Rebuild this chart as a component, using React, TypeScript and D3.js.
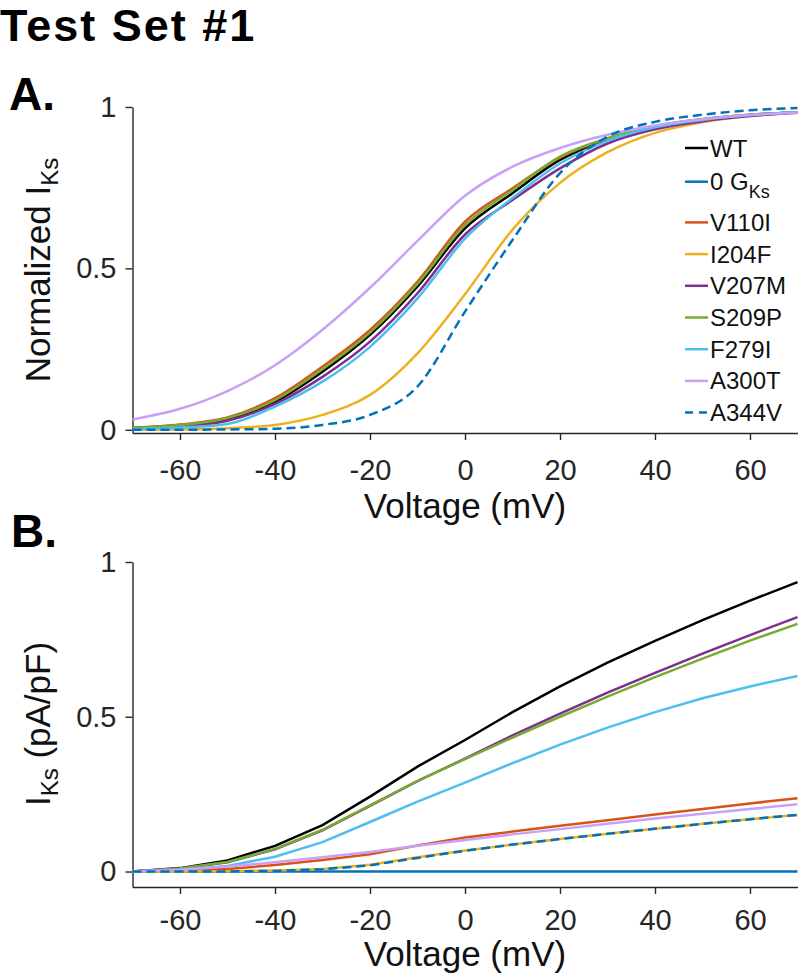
import * as d3 from "d3";
import { useRef, useEffect } from "react";

// voltage steps (mV)
const voltages = [-70, -60, -50, -40, -30, -20, -10, 0, 10, 20, 30, 40, 50, 60, 70];

const seriesNames = ["WT", "0 GKs", "V110I", "I204F", "V207M", "S209P", "F279I", "A300T", "A344V"];
const seriesColors = ["#000000", "#0072BD", "#D95319", "#EDB120", "#7E2F8E", "#77AC30", "#4DBEEE", "#C8A0F8", "#0072BD"];
const seriesDashed = [false, false, false, false, false, false, false, false, true];

// panel A: normalized IKs (0 GKs has no normalized curve)
const normWT = [0.005, 0.013, 0.032, 0.087, 0.18, 0.294, 0.444, 0.624, 0.733, 0.836, 0.898, 0.938, 0.961, 0.975, 0.984];
const normZero = [null, null, null, null, null, null, null, null, null, null, null, null, null, null, null];
const normV110I = [0.006, 0.016, 0.038, 0.098, 0.196, 0.309, 0.459, 0.645, 0.748, 0.843, 0.902, 0.94, 0.962, 0.976, 0.984];
const normI204F = [0.0, 0.001, 0.005, 0.015, 0.046, 0.108, 0.237, 0.42, 0.62, 0.765, 0.86, 0.92, 0.953, 0.972, 0.982];
const normV207M = [0.004, 0.011, 0.028, 0.08, 0.164, 0.273, 0.423, 0.605, 0.712, 0.81, 0.887, 0.931, 0.956, 0.972, 0.982];
const normS209P = [0.006, 0.015, 0.036, 0.092, 0.188, 0.301, 0.452, 0.634, 0.743, 0.846, 0.903, 0.941, 0.963, 0.976, 0.984];
const normF279I = [0.002, 0.007, 0.018, 0.072, 0.149, 0.257, 0.407, 0.592, 0.718, 0.825, 0.895, 0.937, 0.96, 0.975, 0.984];
const normA300T = [0.032, 0.065, 0.12, 0.2, 0.31, 0.44, 0.585, 0.725, 0.815, 0.873, 0.914, 0.943, 0.962, 0.975, 0.983];
const normA344V = [0.0, 0.0, 0.001, 0.003, 0.015, 0.046, 0.134, 0.366, 0.588, 0.795, 0.908, 0.954, 0.976, 0.99, 0.997];

// panel B: IKs (pA/pF)
const iksWT = [0, 0.011, 0.036, 0.083, 0.15, 0.242, 0.339, 0.425, 0.515, 0.598, 0.675, 0.745, 0.812, 0.875, 0.935];
const iksZero = [0, 0, 0, 0, 0, 0, 0, 0, 0, 0, 0, 0, 0, 0, 0];
const iksV110I = [0, 0.003, 0.008, 0.021, 0.037, 0.056, 0.084, 0.11, 0.129, 0.148, 0.166, 0.184, 0.202, 0.22, 0.237];
const iksI204F = [0, 0, 0.001, 0.003, 0.008, 0.022, 0.046, 0.068, 0.087, 0.105, 0.122, 0.138, 0.154, 0.169, 0.183];
const iksV207M = [0, 0.01, 0.03, 0.072, 0.133, 0.212, 0.292, 0.365, 0.44, 0.51, 0.578, 0.642, 0.704, 0.764, 0.822];
const iksS209P = [0, 0.01, 0.031, 0.073, 0.135, 0.214, 0.293, 0.363, 0.433, 0.5, 0.565, 0.628, 0.688, 0.746, 0.8];
const iksF279I = [0, 0.006, 0.018, 0.048, 0.095, 0.16, 0.226, 0.287, 0.35, 0.41, 0.465, 0.515, 0.56, 0.598, 0.632];
const iksA300T = [0, 0.006, 0.016, 0.03, 0.046, 0.063, 0.083, 0.102, 0.12, 0.137, 0.154, 0.171, 0.187, 0.202, 0.217];
const iksA344V = [0, 0, 0, 0.002, 0.007, 0.02, 0.044, 0.067, 0.087, 0.105, 0.122, 0.138, 0.154, 0.169, 0.183];

const normSeries = [normWT, normZero, normV110I, normI204F, normV207M, normS209P, normF279I, normA300T, normA344V];
const iksSeries = [iksWT, iksZero, iksV110I, iksI204F, iksV207M, iksS209P, iksF279I, iksA300T, iksA344V];

const xTicks = [-60, -40, -20, 0, 20, 40, 60];
const yTicks = [0, 0.5, 1];

const FONT = "'Liberation Sans', Arial, Helvetica, sans-serif";
const AXIS_COLOR = "#262626";

function Panel({ top, bottom, yMin, series, smooth, tickGap, labelBase, legend }) {
  const x = d3.scaleLinear().domain([-70, 70]).range([132.5, 797.5]);
  const y = d3.scaleLinear().domain([yMin, 1]).range([bottom, top]);

  const line = d3.line()
    .defined(d => d[1] != null)
    .x(d => x(d[0]))
    .y(d => y(d[1]))
    .curve(smooth ? d3.curveMonotoneX : d3.curveLinear);

  const gx = useRef(null);
  const gy = useRef(null);

  useEffect(() => {
    const ax = d3.select(gx.current)
      .call(d3.axisBottom(x).tickValues(xTicks).tickSize(7).tickSizeOuter(0).tickPadding(tickGap).tickFormat(d => String(d)));
    const ay = d3.select(gy.current)
      .call(d3.axisLeft(y).tickValues(yTicks).tickSize(7).tickSizeOuter(0).tickPadding(9).tickFormat(d => String(d)));
    [ax, ay].forEach(g => {
      g.attr("font-family", FONT).attr("font-size", 29);
      g.select(".domain").attr("stroke", AXIS_COLOR).attr("stroke-width", 1.4);
      g.selectAll(".tick line").attr("stroke", AXIS_COLOR).attr("stroke-width", 1.4);
      g.selectAll(".tick text").attr("fill", AXIS_COLOR);
    });
  }, []);

  return (
    <g>
      <g ref={gx} transform={`translate(0,${bottom})`} />
      <g ref={gy} transform={`translate(132.5,0)`} />
      <g fill="none" strokeWidth={2.5}>
        {series.map((vals, i) => (
          <path
            key={seriesNames[i]}
            d={line(voltages.map((v, j) => [v, vals[j]]))}
            stroke={seriesColors[i]}
            strokeDasharray={seriesDashed[i] ? "9,5" : null}
          />
        ))}
      </g>
      <text x={465} y={labelBase} textAnchor="middle" fontFamily={FONT} fontSize={35} fill="#111">Voltage (mV)</text>
      {legend}
    </g>
  );
}

function Legend() {
  const rowY = i => 148 + i * 31.7 + (i >= 1 ? 2 : 0) + (i >= 2 ? 9 : 0);
  return (
    <g fontFamily={FONT} fontSize={24} fill="#111">
      {seriesNames.map((name, i) => (
        <g key={name} transform={`translate(0,${rowY(i)})`}>
          <line x1={685} x2={708} y1={0} y2={0} stroke={seriesColors[i]} strokeWidth={2.5}
            strokeDasharray={seriesDashed[i] ? "8,6" : null} />
          {name === "0 GKs" ? (
            <text x={710} y={8.5}>0 G<tspan fontSize={18} dy={8}>Ks</tspan></text>
          ) : (
            <text x={710} y={8.5}>{name}</text>
          )}
        </g>
      ))}
    </g>
  );
}

export default function App() {
  return (
    <svg width={800} height={976} style={{ position: "absolute", left: 0, top: 0, background: "#fff" }}>
      <text x={0} y={40.5} fontFamily={FONT} fontWeight="bold" fontSize={45} letterSpacing={2} fill="#000">Test Set #1</text>
      <text x={9} y={110} fontFamily={FONT} fontWeight="bold" fontSize={46} fill="#000">A.</text>
      <text x={11} y={547} fontFamily={FONT} fontWeight="bold" fontSize={46} fill="#000">B.</text>

      <Panel top={107} bottom={433} yMin={-0.01} series={normSeries} smooth={true} tickGap={19} labelBase={518} legend={<Legend />} />
      <Panel top={562} bottom={887} yMin={-0.05} series={iksSeries} smooth={false} tickGap={15} labelBase={966} legend={null} />

      <text transform="translate(50,270) rotate(-90)" textAnchor="middle" fontFamily={FONT} fontSize={35} fill="#111">
        Normalized I<tspan fontSize={24} dy={8}>Ks</tspan>
      </text>
      <text transform="translate(50,724) rotate(-90)" textAnchor="middle" fontFamily={FONT} fontSize={35} fill="#111">
        I<tspan fontSize={24} dy={8}>Ks</tspan><tspan dy={-8}> (pA/pF)</tspan>
      </text>
    </svg>
  );
}
